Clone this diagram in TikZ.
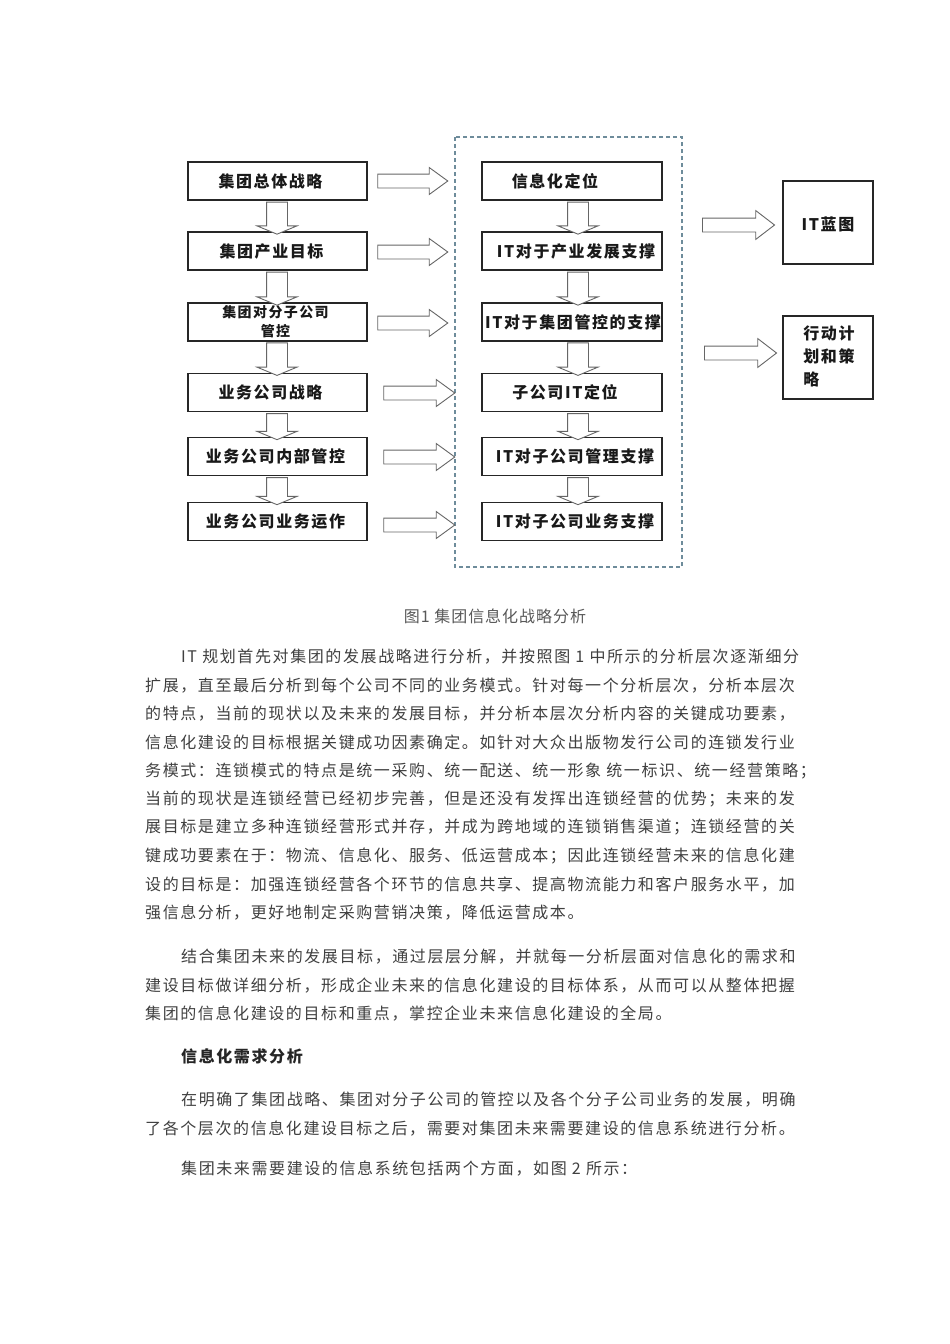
\documentclass[tikz,border=0pt]{standalone}
\usepackage{fontspec}
\usetikzlibrary{shapes.arrows}
\newfontfamily\bodyfont[LetterSpace=10]{Noto Sans CJK SC}
\newfontfamily\capfont[LetterSpace=6]{Noto Sans CJK SC}
\newfontfamily\boxfont[LetterSpace=10]{Noto Sans CJK SC}
\definecolor{dashc}{RGB}{110,140,155}
\begin{document}
\begin{tikzpicture}[x=1pt,y=-1pt,
  box/.style={draw=black!85, line width=1.3pt, fill=white, minimum width=179pt, minimum height=38pt, inner sep=0pt},
  sidebox/.style={draw=black!85, line width=1.3pt, fill=white, minimum width=90pt, minimum height=83pt, inner sep=0pt},
  lbl/.style={font=\boxfont\bfseries\fontsize{16}{20}\selectfont, text=black!90, inner sep=0pt},
  lblsmall/.style={font=\boxfont\bfseries\fontsize{14}{19}\selectfont, text=black!90, inner sep=0pt, align=center},
  harr/.style={single arrow, draw=black!60, line width=0.9pt, fill=white, inner sep=6.5pt, single arrow head extend=6.5pt, single arrow tip angle=72, single arrow head indent=0pt},
  farr/.style={single arrow, draw=black!60, line width=0.9pt, fill=white, inner sep=6.5pt, single arrow head extend=7.5pt, single arrow tip angle=75, single arrow head indent=0pt, minimum height=72pt},
  varr/.style={single arrow, shape border rotate=270, draw=black!60, line width=0.9pt, fill=white, inner sep=10pt, single arrow head extend=9.5pt, single arrow tip angle=135, single arrow head indent=0pt},
  bodyline/.style={anchor=west, inner sep=0pt, font=\bodyfont\fontsize{16}{20}\selectfont, text=black!75},
  headline/.style={anchor=west, inner sep=0pt, font=\boxfont\bfseries\fontsize{16}{20}\selectfont, text=black!85},
  caption/.style={inner sep=0pt, font=\capfont\fontsize{16}{20}\selectfont, text=black!65}
]
\useasboundingbox[fill=white] (0,0) rectangle (950,1344);

% dashed frame
\draw[dashc, line width=1.2pt, dash pattern=on 4pt off 3pt] (455,137) rectangle (682,567);

% left column boxes
\node[box, label={[lbl,xshift=-7pt]center:集团总体战略}] (l1) at (277.5,181) {};
\node[box, label={[lbl,xshift=-6pt]center:集团产业目标}] (l2) at (277.5,251) {};
\node[box, label={[lblsmall,xshift=-2pt]center:{集团对分子公司\\管控}}] (l3) at (277.5,322) {};
\node[box, label={[lbl,xshift=-7pt]center:业务公司战略}] (l4) at (277.5,392.5) {};
\node[box, label={[lbl,xshift=-2pt]center:业务公司内部管控}] (l5) at (277.5,456.5) {};
\node[box, label={[lbl,xshift=-2pt]center:业务公司业务运作}] (l6) at (277.5,521.5) {};

% right column boxes
\node[box, minimum width=180pt, label={[lbl,xshift=-17pt]center:信息化定位}] (r1) at (572,181) {};
\node[box, minimum width=180pt, label={[lbl,xshift=4pt]center:IT对于产业发展支撑}] (r2) at (572,251) {};
\node[box, minimum width=180pt, label={[lbl,xshift=1pt]center:IT对于集团管控的支撑}] (r3) at (572,322) {};
\node[box, minimum width=180pt, label={[lbl,xshift=-7pt]center:子公司IT定位}] (r4) at (572,392.5) {};
\node[box, minimum width=180pt, label={[lbl,xshift=3pt]center:IT对子公司管理支撑}] (r5) at (572,456.5) {};
\node[box, minimum width=180pt, label={[lbl,xshift=3pt]center:IT对子公司业务支撑}] (r6) at (572,521.5) {};

% far right boxes
\node[sidebox, label={[lbl,yshift=-2pt]center:IT蓝图}] (it) at (828,222.5) {};
\node[sidebox] (act) at (828,357.5) {};
\node[font=\boxfont\bfseries\fontsize{16}{23}\selectfont, text=black!90, align=left, inner sep=0pt] (acttxt) at (829,356) {行动计\\划和策\\略};

% vertical arrows, left column
\node[varr, minimum height=32pt] (vl1) at (277,216) {};
\node[varr, minimum height=33pt] (vl2) at (277,286.5) {};
\node[varr, minimum height=32.5pt] (vl3) at (277,357) {};
\node[varr, minimum height=26pt] (vl4) at (277,424.5) {};
\node[varr, minimum height=27pt] (vl5) at (277,489) {};
% vertical arrows, right column
\node[varr, minimum height=32pt] (vr1) at (578,216) {};
\node[varr, minimum height=33pt] (vr2) at (578,286.5) {};
\node[varr, minimum height=32.5pt] (vr3) at (578,357) {};
\node[varr, minimum height=26pt] (vr4) at (578,424.5) {};
\node[varr, minimum height=27pt] (vr5) at (578,489) {};

% horizontal arrows between columns
\node[harr, minimum height=70pt] (h1) at (408,181) {};
\node[harr, minimum height=70pt] (h2) at (408,252) {};
\node[harr, minimum height=70pt] (h3) at (408,323) {};
\node[harr, minimum height=71pt] (h4) at (414.5,393) {};
\node[harr, minimum height=71pt] (h5) at (414.5,457) {};
\node[harr, minimum height=71pt] (h6) at (414.5,525) {};

% arrows to far right boxes
\node[farr] (f1) at (734,225) {};
\node[farr] (f2) at (736,353) {};

% caption
\node[caption] (cap) at (495,616) {图1 集团信息化战略分析};

% paragraph 1
\node[bodyline] (p1a) at (181,657) {IT 规划首先对集团的发展战略进行分析，并按照图 1 中所示的分析层次逐渐细分};
\node[bodyline] (p1b) at (145,685.4) {扩展，直至最后分析到每个公司不同的业务模式。针对每一个分析层次，分析本层次};
\node[bodyline] (p1c) at (145,713.8) {的特点，当前的现状以及未来的发展目标，并分析本层次分析内容的关键成功要素，};
\node[bodyline] (p1d) at (145,742.2) {信息化建设的目标根据关键成功因素确定。如针对大众出版物发行公司的连锁发行业};
\node[bodyline] (p1e) at (145,770.6) {务模式：连锁模式的特点是统一采购、统一配送、统一形象 统一标识、统一经营策略；};
\node[bodyline] (p1f) at (145,799) {当前的现状是连锁经营已经初步完善，但是还没有发挥出连锁经营的优势；未来的发};
\node[bodyline] (p1g) at (145,827.4) {展目标是建立多种连锁经营形式并存，并成为跨地域的连锁销售渠道；连锁经营的关};
\node[bodyline] (p1h) at (145,855.8) {键成功要素在于：物流、信息化、服务、低运营成本；因此连锁经营未来的信息化建};
\node[bodyline] (p1i) at (145,884.2) {设的目标是：加强连锁经营各个环节的信息共享、提高物流能力和客户服务水平，加};
\node[bodyline] (p1j) at (145,912.6) {强信息分析，更好地制定采购营销决策，降低运营成本。};

% paragraph 2
\node[bodyline] (p2a) at (181,957) {结合集团未来的发展目标，通过层层分解，并就每一分析层面对信息化的需求和};
\node[bodyline] (p2b) at (145,985.4) {建设目标做详细分析，形成企业未来的信息化建设的目标体系，从而可以从整体把握};
\node[bodyline] (p2c) at (145,1013.8) {集团的信息化建设的目标和重点，掌控企业未来信息化建设的全局。};

% heading
\node[headline] (hd) at (181,1056) {信息化需求分析};

% paragraph 3
\node[bodyline] (p3a) at (181,1100) {在明确了集团战略、集团对分子公司的管控以及各个分子公司业务的发展，明确};
\node[bodyline] (p3b) at (145,1128.4) {了各个层次的信息化建设目标之后，需要对集团未来需要建设的信息系统进行分析。};

% paragraph 4
\node[bodyline] (p4a) at (181,1169) {集团未来需要建设的信息系统包括两个方面，如图 2 所示：};
\end{tikzpicture}
\end{document}
